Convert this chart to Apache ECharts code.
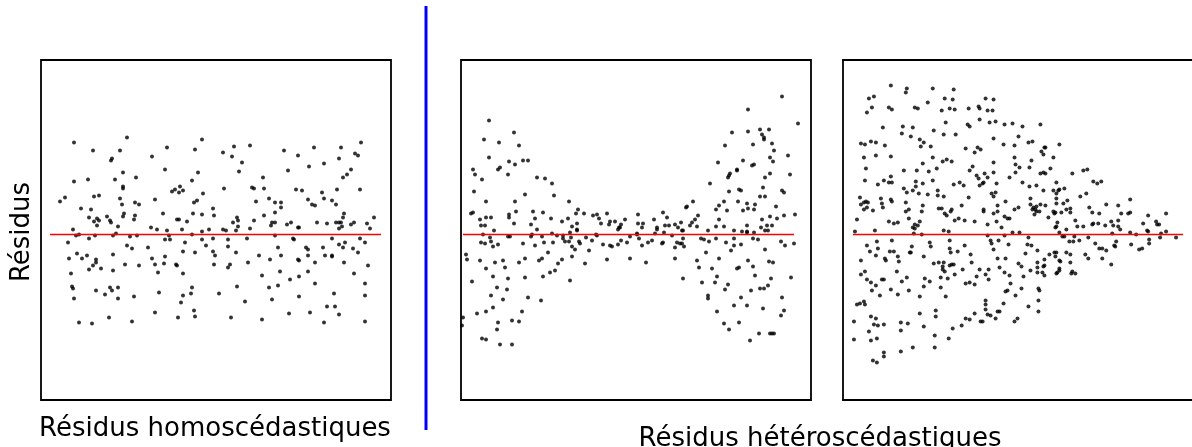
<!DOCTYPE html>
<html>
<head>
<meta charset="utf-8">
<script src="https://cdn.jsdelivr.net/npm/echarts@6/dist/echarts.min.js"></script>
<style>html,body{margin:0;padding:0;background:#fff;}#c{width:1192px;height:447px;}</style>
</head>
<body>
<div id="c"></div>
<script>
// Panel 1: homoscedastic residuals [observation position, residual]
const homoPoints = [
[86,97],[33,92],[161,95],[52,84],[79,84],[126,87],[154,85],[71,76],[70,74],[111,78],[124,65],[82,62],[157,62],[33,53],[47,55],[74,55],[95,57],[151,54],[82,48],[82,46],[131,43],[134,45],[139,48],[138,42],[142,44],[162,41],[19,33],[24,37],[53,38],[58,39],[79,36],[81,30],[94,32],[98,30],[114,35],[153,32],[156,34],[40,26],[50,25],[172,26],[48,17],[53,13],[56,16],[58,14],[56,9],[66,18],[69,14],[70,12],[82,18],[83,21],[94,19],[93,15],[122,21],[136,15],[138,15],[146,13],[152,21],[161,20],[173,19],[32,5],[35,-1],[38,0],[48,-4],[54,-1],[72,-1],[75,1],[77,8],[89,-2],[96,-1],[110,7],[116,5],[126,4],[128,-1],[124,-5],[129,-5],[141,5],[151,0],[161,3],[168,5],[161,-5],[172,-4],[27,-8],[86,-11],[91,-14],[107,-13],[144,-8],[165,-11],[28,-24],[36,-19],[41,-24],[46,-21],[55,-25],[55,-28],[52,-31],[48,-35],[60,-34],[72,-20],[72,-36],[84,-30],[98,-31],[111,-24],[114,-30],[124,-22],[123,-29],[117,-38],[135,-30],[136,-31],[142,-39],[142,-17],[154,-18],[172,-17],[174,-21],[173,-30],[30,-39],[31,-52],[32,-54],[33,-64],[55,-56],[64,-60],[69,-53],[71,-56],[77,-53],[77,-64],[93,-62],[118,-58],[151,-53],[150,-59],[142,-61],[140,-68],[178,-59],[153,-76],[154,-82],[114,-78],[38,-88],[51,-89],[68,-83],[91,-87],[137,-83],
[193,88],[209,89],[182,82],[191,78],[201,72],[198,63],[243,84],[257,79],[273,87],[300,87],[320,92],[314,81],[317,79],[298,76],[283,71],[268,68],[247,64],[310,65],[306,60],[302,57],[222,57],[183,46],[211,47],[213,46],[223,46],[255,45],[261,44],[281,42],[296,45],[319,45],[215,33],[228,36],[234,32],[240,32],[240,27],[234,22],[267,35],[271,30],[274,29],[283,36],[291,34],[295,30],[303,21],[302,17],[333,17],[223,19],[196,17],[197,14],[192,12],[213,14],[231,12],[234,12],[230,9],[250,12],[246,10],[257,7],[258,7],[276,12],[286,11],[295,12],[298,12],[300,12],[301,8],[298,6],[310,10],[313,12],[326,11],[329,6],[197,8],[209,6],[182,5],[185,4],[195,4],[206,-4],[187,-5],[187,-12],[234,-1],[252,-4],[253,-5],[291,-4],[298,-10],[302,-13],[304,-8],[319,-4],[324,-8],[312,-14],[317,-18],[195,-18],[218,-21],[240,-21],[237,-13],[265,-13],[267,-15],[267,-21],[282,-13],[284,-21],[291,-21],[291,-22],[229,-25],[257,-25],[258,-26],[274,-28],[303,-28],[327,-31],[207,-28],[189,-30],[187,-33],[221,-41],[239,-37],[258,-42],[267,-37],[249,-45],[274,-49],[313,-39],[324,-49],[196,-52],[228,-53],[237,-51],[204,-67],[231,-65],[258,-62],[293,-59],[324,-61],[248,-79],[269,-78],[286,-72],[294,-72],[298,-80],[283,-88],[324,-87],[190,-83],[221,-85]
];
// Panel 2: heteroscedastic residuals, bow-tie shape
const heteroPointsA = [
[28,114],[23,95],[53,102],[38,92],[58,89],[28,77],[37,65],[39,67],[48,73],[54,70],[62,74],[67,74],[12,65],[14,60],[21,55],[47,60],[76,57],[84,56],[91,51],[93,39],[13,43],[64,40],[25,33],[54,33],[108,33],[10,21],[12,22],[48,20],[48,17],[55,23],[72,23],[82,22],[117,25],[115,21],[123,21],[132,19],[136,20],[146,21],[19,15],[25,17],[30,17],[20,9],[24,9],[33,4],[53,11],[70,10],[74,16],[76,5],[90,16],[101,13],[107,16],[111,8],[116,11],[116,5],[116,4],[109,2],[138,16],[140,11],[149,13],[148,10],[154,13],[160,10],[164,15],[158,7],[157,5],[159,7],[22,0],[29,-3],[30,-7],[20,-8],[24,-9],[32,-12],[37,-10],[47,-2],[49,-2],[62,-9],[70,-2],[71,0],[81,-2],[83,-8],[74,-11],[91,1],[92,-8],[96,-1],[102,-1],[102,-4],[104,-7],[108,-7],[110,-3],[111,-12],[114,-15],[118,-7],[119,-9],[125,-3],[131,-6],[128,-16],[135,0],[136,-1],[142,-10],[149,-11],[151,-12],[157,-10],[160,-6],[166,-8],[169,-2],[5,-20],[6,-25],[19,-26],[25,-34],[34,-28],[42,-26],[44,-33],[58,-28],[64,-24],[78,-26],[81,-24],[87,-18],[97,-29],[101,-25],[94,-36],[89,-38],[82,-42],[111,-22],[124,-29],[146,-25],[169,-24],[11,-47],[32,-42],[47,-44],[64,-43],[109,-46],[36,-53],[30,-61],[46,-55],[42,-65],[67,-63],[80,-66],[32,-73],[25,-77],[16,-79],[61,-77],[2,-83],[1,-91],[37,-88],[36,-95],[51,-86],[58,-87],[21,-104],[25,-105],[39,-110],[51,-110],
[321,138],[287,125],[337,111],[299,105],[308,105],[287,103],[271,102],[301,100],[303,97],[303,95],[311,91],[292,90],[264,89],[313,84],[327,79],[309,77],[312,73],[282,74],[291,69],[293,70],[257,72],[276,65],[276,64],[329,60],[309,61],[304,57],[269,61],[268,59],[267,57],[249,51],[302,47],[278,45],[280,44],[268,43],[321,44],[323,42],[299,38],[304,38],[232,33],[226,28],[225,27],[263,33],[277,33],[286,31],[294,30],[258,29],[255,25],[266,24],[282,24],[287,26],[293,25],[315,28],[334,20],[323,19],[309,18],[316,16],[301,15],[237,19],[234,15],[231,12],[258,15],[202,22],[206,17],[177,20],[177,11],[182,11],[181,7],[193,15],[196,7],[196,5],[204,9],[208,9],[214,10],[220,12],[217,7],[221,4],[222,4],[229,9],[236,8],[247,4],[255,8],[263,8],[273,4],[281,3],[286,3],[286,9],[286,2],[293,2],[300,7],[304,4],[306,9],[307,4],[311,9],[176,1],[176,0],[194,1],[203,2],[211,-1],[178,-4],[181,-11],[187,-8],[191,-6],[201,-9],[202,-8],[214,-13],[216,-8],[219,-9],[221,-9],[222,-4],[223,-12],[240,-4],[243,-5],[248,-7],[255,-4],[265,-8],[270,-16],[273,-4],[273,-11],[280,-10],[292,-4],[297,-5],[304,-15],[320,-7],[324,-11],[333,-9],[185,-28],[214,-24],[222,-44],[236,-26],[238,-33],[245,-18],[251,-34],[256,-42],[258,-24],[241,-48],[254,-48],[264,-55],[267,-50],[276,-34],[278,-33],[287,-26],[292,-32],[294,-41],[308,-27],[312,-28],[310,-44],[330,-43],[299,-54],[303,-54],[307,-51],[290,-56],[247,-61],[247,-64],[280,-63],[273,-71],[286,-71],[302,-74],[321,-63],[323,-76],[320,-81],[256,-77],[263,-89],[268,-95],[278,-88],[289,-106],[298,-99],[309,-99],[311,-99],[313,-99]
];
// Panel 3: heteroscedastic residuals, funnel shape
const heteroPointsB = [
[48,149],[64,146],[63,142],[90,146],[111,145],[26,136],[31,138],[102,136],[110,135],[143,136],[151,135],[29,127],[24,122],[46,127],[49,125],[72,127],[75,126],[85,132],[99,124],[107,126],[112,125],[126,126],[136,128],[137,126],[145,124],[150,124],[137,115],[103,112],[125,110],[127,108],[147,112],[153,113],[162,110],[170,111],[40,107],[60,108],[59,101],[70,107],[68,98],[91,104],[101,100],[113,100],[18,91],[22,90],[28,93],[33,92],[42,89],[77,95],[78,88],[88,88],[81,92],[151,96],[161,90],[172,89],[123,86],[132,82],[135,87],[138,85],[21,77],[33,79],[48,78],[90,77],[100,73],[104,75],[109,73],[80,71],[151,72],[23,66],[61,64],[74,64],[86,63],[94,66],[130,68],[127,64],[172,77],[134,59],[142,61],[151,62],[22,54],[35,50],[41,54],[46,52],[49,52],[48,58],[73,53],[73,48],[80,51],[90,54],[111,50],[117,52],[121,49],[61,46],[64,42],[70,44],[76,41],[85,40],[95,44],[101,38],[95,39],[136,56],[137,49],[140,51],[141,52],[145,57],[154,51],[167,57],[17,37],[18,30],[21,32],[23,33],[24,27],[25,32],[21,25],[30,24],[38,36],[39,31],[40,27],[48,35],[49,33],[63,32],[63,23],[66,25],[80,29],[79,23],[96,26],[99,26],[102,21],[104,19],[108,23],[109,25],[119,29],[126,37],[149,41],[151,38],[153,42],[155,29],[141,25],[141,23],[151,21],[155,23],[163,33],[14,15],[46,13],[51,11],[55,12],[66,16],[72,10],[75,9],[72,6],[77,13],[70,7],[71,1],[79,0],[32,4],[101,4],[106,3],[112,14],[116,16],[122,14],[132,13],[145,10],[154,13],[159,7],[162,18],[165,16],[167,16],[172,25],[12,3],[145,-1],[148,-6],[149,-9],[156,-6],[162,-1],[170,2],[151,-15],[166,-10],[24,-11],[27,-17],[34,-7],[35,-14],[33,-21],[47,-17],[51,-17],[49,-6],[67,-18],[69,-12],[68,-18],[87,-8],[88,-12],[107,-6],[107,-14],[108,-18],[122,-11],[115,-17],[18,-26],[42,-24],[43,-26],[55,-22],[56,-27],[81,-22],[91,-29],[96,-28],[101,-28],[100,-32],[107,-31],[109,-30],[111,-30],[128,-20],[129,-28],[155,-24],[163,-24],[18,-40],[22,-37],[24,-45],[28,-48],[33,-51],[29,-56],[39,-45],[41,-45],[37,-61],[48,-55],[54,-37],[55,-60],[59,-47],[64,-43],[66,-56],[77,-62],[82,-44],[81,-52],[87,-47],[98,-53],[100,-35],[102,-37],[105,-44],[112,-40],[98,-43],[103,-62],[120,-35],[123,-49],[127,-48],[132,-50],[137,-35],[134,-42],[143,-40],[146,-35],[146,-45],[157,-33],[162,-38],[167,-41],[168,-49],[165,-56],[163,-57],[14,-70],[17,-69],[21,-67],[22,-70],[28,-82],[33,-84],[31,-90],[35,-91],[41,-90],[58,-88],[65,-89],[58,-96],[77,-79],[81,-92],[93,-76],[93,-82],[106,-104],[110,-94],[119,-91],[123,-84],[127,-85],[132,-79],[138,-87],[140,-87],[143,-66],[143,-70],[143,-75],[145,-80],[148,-81],[153,-84],[155,-77],[157,-77],[161,-69],[172,-87],[11,-87],[11,-105],[26,-97],[28,-106],[34,-104],[41,-118],[41,-122],[58,-117],[70,-113],[92,-101],[92,-113],[30,-126],[34,-128],
[180,108],[198,110],[176,98],[186,92],[190,93],[202,87],[203,87],[199,83],[201,80],[217,90],[173,70],[177,67],[189,74],[187,67],[211,77],[208,66],[173,62],[198,61],[201,62],[203,61],[230,61],[241,64],[245,65],[180,52],[187,48],[194,49],[201,44],[214,52],[211,44],[214,41],[216,44],[217,45],[222,46],[251,53],[255,51],[259,53],[244,41],[238,38],[176,27],[188,36],[188,30],[191,27],[193,25],[190,25],[194,28],[194,23],[192,20],[197,23],[198,30],[203,29],[206,17],[211,23],[213,22],[212,21],[214,36],[219,22],[221,31],[225,34],[224,25],[228,26],[228,22],[214,31],[247,27],[250,22],[257,21],[264,30],[276,29],[279,21],[286,21],[288,22],[288,35],[233,14],[235,8],[241,8],[250,10],[251,11],[256,11],[263,9],[269,13],[271,9],[276,14],[276,8],[278,5],[270,1],[215,12],[213,7],[214,8],[217,2],[220,-2],[222,-2],[224,5],[227,-7],[231,-7],[232,-2],[237,-6],[246,-3],[253,-9],[257,-14],[260,-14],[264,-16],[260,-24],[269,-30],[272,-11],[273,-12],[274,-7],[289,-10],[288,2],[294,0],[297,-15],[300,-14],[301,11],[305,4],[306,3],[306,19],[307,-5],[307,-9],[314,13],[315,10],[317,10],[318,-3],[319,1],[324,21],[324,3],[334,-3],[177,2],[186,-3],[185,-10],[189,-11],[195,-16],[183,-19],[207,-20],[212,-18],[213,-22],[214,-18],[217,-26],[218,-27],[202,-25],[201,-32],[195,-28],[195,-33],[202,-31],[195,-38],[200,-38],[202,-41],[214,-39],[215,-38],[217,-34],[217,-36],[224,-18],[228,-20],[228,-28],[230,-37],[229,-39],[233,-39],[243,-20],[246,-24],[188,-36],[181,-42],[176,-29],[179,-32],[179,-54],[196,-54],[197,-56],[196,-66],[196,-77],[186,-72],[173,-61],[175,-84]
];
const zeroLines = [[9, 340], [2, 333], [10, 341]];
const xMin = 0, xMax = 350, yMin = -165.5, yMax = 174.5;
const labelHomo = 'Résidus homoscédastiques';
const labelHetero = 'Résidus hétéroscédastiques';
const labelY = 'Résidus';

const chart = echarts.init(document.getElementById('c'), null, {renderer: 'canvas'});
const panels = [homoPoints, heteroPointsA, heteroPointsB];
const lefts = [41, 461, 843];
const frame = {show: true, lineStyle: {color: '#000', width: 1.8}, onZero: false};
// Panels 1-2: full frame via grid border. Panel 3: right side runs off the page, so frame only left/top/bottom via axis lines.
const grids = lefts.map((l, i) => ({left: l, top: 60, width: 350, height: 340, show: i < 2, borderColor: '#000', borderWidth: 1.8, backgroundColor: 'transparent', containLabel: false}));
const axisOpts = (i, pos, showLine) => ({gridIndex: i, type: 'value', min: null, max: null, position: pos,
  axisLine: showLine ? frame : {show: false}, axisTick: {show: false}, axisLabel: {show: false}, splitLine: {show: false}});
const xAxes = [], yAxes = [];
panels.forEach((p, i) => {
  xAxes.push(Object.assign(axisOpts(i, 'bottom', i === 2), {min: xMin, max: xMax}));
  yAxes.push(Object.assign(axisOpts(i, 'left', i === 2), {min: yMin, max: yMax}));
});
// top frame line for panel 3
xAxes.push(Object.assign(axisOpts(2, 'top', true), {min: xMin, max: xMax}));
const series = [];
panels.forEach((pts, i) => {
  series.push({type: 'scatter', xAxisIndex: i, yAxisIndex: i, data: pts, symbol: 'circle', symbolSize: 4, itemStyle: {color: '#000'}, z: 2, silent: true});
  series.push({type: 'line', xAxisIndex: i, yAxisIndex: i, data: [[zeroLines[i][0], 0], [zeroLines[i][1], 0]], showSymbol: false, lineStyle: {color: '#ff0000', width: 1.5}, z: 3, silent: true});
});
const font = '26px "DejaVu Sans"';
chart.setOption({
  animation: false,
  backgroundColor: '#fff',
  grid: grids, xAxis: xAxes, yAxis: yAxes, series: series,
  graphic: [
    {type: 'line', shape: {x1: 426, y1: 6, x2: 426, y2: 430}, style: {stroke: '#0000ff', lineWidth: 3}},
    {type: 'text', x: 215, y: 429, style: {text: labelHomo, font: font, fill: '#000', textAlign: 'center', textVerticalAlign: 'middle'}},
    {type: 'text', x: 820, y: 439, style: {text: labelHetero, font: font, fill: '#000', textAlign: 'center', textVerticalAlign: 'middle'}},
    {type: 'text', x: 22, y: 232, rotation: Math.PI / 2, style: {text: labelY, font: font, fill: '#000', textAlign: 'center', textVerticalAlign: 'middle'}}
  ]
});
</script>
</body>
</html>
